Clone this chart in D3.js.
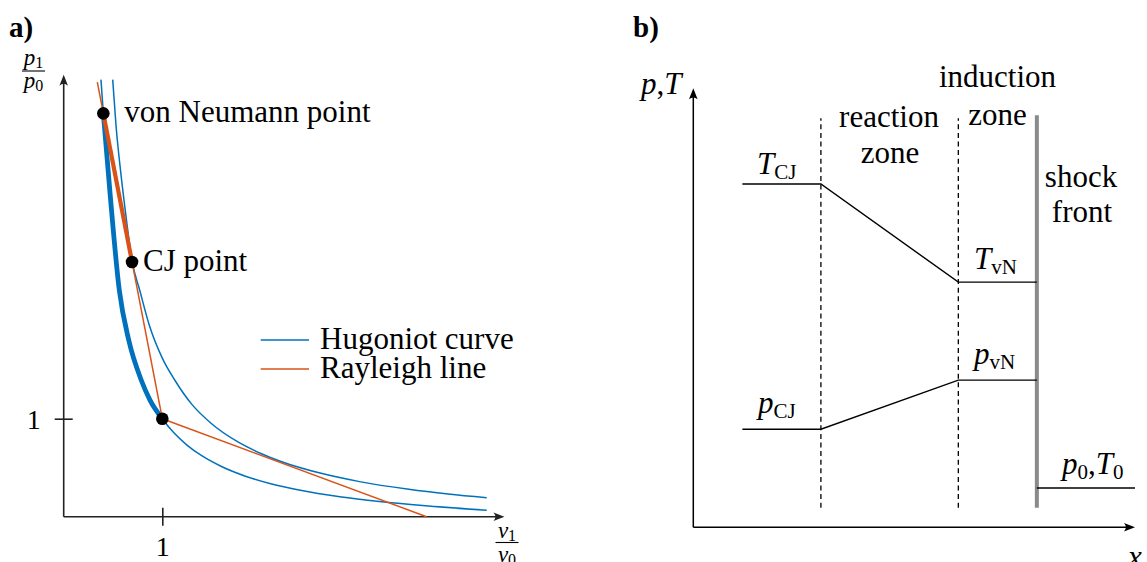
<!DOCTYPE html>
<html>
<head>
<meta charset="utf-8">
<script src="https://cdn.jsdelivr.net/npm/d3@7"></script>
<style>
  body { margin: 0; background: #fff; }
  svg { display: block; }
  text { font-family: "Liberation Serif", "Times New Roman", serif; fill: #000; }
</style>
</head>
<body>
<svg id="chart" width="1147" height="562"></svg>
<script>
// ---------- Panel a: Hugoniot curves and Rayleigh lines ----------
// Shock (unreacted) Hugoniot through the initial state (1, 1)
const shockV = [0.378, 0.402, 0.47, 0.564, 0.66, 0.784, 0.875, 1.0, 1.12, 1.25, 1.4, 1.6, 1.85, 2.1, 2.4, 2.8, 3.2, 3.7, 4.29];
const shockP = [4.46, 4.116, 3.30, 2.31, 1.80, 1.40, 1.19, 1.0, 0.853, 0.731, 0.622, 0.512, 0.411, 0.336, 0.269, 0.203, 0.154, 0.108, 0.066];
// Detonation (reacted) Hugoniot
const detV = [0.497, 0.53, 0.58, 0.63, 0.693, 0.774, 0.87, 1.0, 1.129, 1.3, 1.5, 1.75, 2.0, 2.3, 2.6, 3.0, 3.5, 3.9, 4.29];
const detP = [4.46, 4.0, 3.5, 3.08, 2.61, 2.30, 1.948, 1.618, 1.39, 1.146, 0.949, 0.773, 0.645, 0.530, 0.445, 0.358, 0.280, 0.232, 0.194];
// Rayleigh lines from the initial state
const rayleighV = [1, 0.341];
const rayleighP = [1, 4.435];
const weakRayleighV = [1, 3.68];
const weakRayleighP = [1, 0];
// Marked states
const pointNames = ["von Neumann point", "CJ point", ""];
const pointV = [0.402, 0.693, 1];
const pointP = [4.116, 2.599, 1];
const legendLabels = ["Hugoniot curve", "Rayleigh line"];
const xTicksA = [1];
const yTicksA = [1];

// ---------- Panel b: profile through the detonation ----------
const profileX = [1, 2.6, 5.4, 7];
const temperature = [7, 7, 5, 5];
const pressure = [2, 2, 3, 3];
const ambientX = [7, 9];
const ambientLevel = [0.8, 0.8];
const zoneBounds = [2.6, 5.4];
const shockX = 7;
const wallSpan = [0.4, 8.4];

const BLUE = "#0072BD", ORANGE = "#D95319";
const FS = 31;
const svg = d3.select("#chart");

// arrowhead in LaTeX style, tip at (x, y), pointing along angle
function arrowHead(g, x, y, angle, color) {
  const L = 11, W = 4.3;
  g.append("path")
    .attr("d", `M0,0 L${-L},${-W} Q${-L*0.65},0 ${-L},${W} Z`)
    .attr("transform", `translate(${x},${y}) rotate(${angle})`)
    .attr("fill", color);
}

// ===== Panel a =====
const gA = svg.append("g");
const xA = d3.scaleLinear().domain([0, 1]).range([63.7, 162.3]);
const yA = d3.scaleLinear().domain([0, 1]).range([516.7, 418.7]);
const axisColor = "#222";

// axes lines with arrows
gA.append("line").attr("x1", xA(0)).attr("y1", yA(0)).attr("x2", xA(4.47) - 4).attr("y2", yA(0))
  .attr("stroke", axisColor).attr("stroke-width", 1.6);
arrowHead(gA, xA(4.47), yA(0), 0, axisColor);
gA.append("line").attr("x1", xA(0)).attr("y1", yA(0)).attr("x2", xA(0)).attr("y2", yA(4.51) + 4)
  .attr("stroke", axisColor).attr("stroke-width", 1.6);
arrowHead(gA, xA(0), yA(4.51), -90, axisColor);

// tick marks via d3 axes
const axB = gA.append("g").attr("transform", `translate(0,${yA(0)})`)
  .call(d3.axisBottom(xA).tickValues(xTicksA).tickFormat(d => String(d)).tickSize(9));
axB.select(".domain").remove();
axB.selectAll(".tick line").attr("y1", -9).attr("y2", 9).attr("stroke", axisColor).attr("stroke-width", 1.6);
axB.selectAll(".tick text").attr("y", 39).attr("dy", 0)
  .style("font-family", "Liberation Serif").style("font-size", "28px").attr("fill", "#000");

const axL = gA.append("g").attr("transform", `translate(${xA(0)},0)`)
  .call(d3.axisLeft(yA).tickValues(yTicksA).tickFormat(d => String(d)).tickSize(9));
axL.select(".domain").remove();
axL.selectAll(".tick line").attr("x1", 9).attr("x2", -9).attr("stroke", axisColor).attr("stroke-width", 1.6);
axL.selectAll(".tick text").attr("x", -23).attr("dy", "0.34em")
  .style("font-family", "Liberation Serif").style("font-size", "28px").attr("fill", "#000");

// axis fraction labels
function fraction(g, cx, yNum, yBar, yDen, sym, subNum, subDen, halfW) {
  const t1 = g.append("text").attr("x", cx).attr("y", yNum).attr("text-anchor", "middle").style("font-size", "23px");
  t1.append("tspan").style("font-style", "italic").text(sym);
  t1.append("tspan").style("font-size", "16px").attr("dy", 3).text(subNum);
  g.append("line").attr("x1", cx - halfW).attr("x2", cx + halfW).attr("y1", yBar).attr("y2", yBar)
    .attr("stroke", "#000").attr("stroke-width", 1.1);
  const t2 = g.append("text").attr("x", cx).attr("y", yDen).attr("text-anchor", "middle").style("font-size", "23px");
  t2.append("tspan").style("font-style", "italic").text(sym);
  t2.append("tspan").style("font-size", "16px").attr("dy", 3).text(subDen);
}
fraction(gA, 33.5, 65, 71, 88, "p", "1", "0", 11.5);
fraction(gA, 507, 538, 542.5, 562, "v", "1", "0", 11.5);

const line = d3.line().x(d => xA(d[0])).y(d => yA(d[1])).curve(d3.curveMonotoneX);
const shock = shockV.map((v, i) => [v, shockP[i]]);
const det = detV.map((v, i) => [v, detP[i]]);

gA.append("path").attr("d", line(shock)).attr("fill", "none").attr("stroke", BLUE).attr("stroke-width", 1.5);
gA.append("path").attr("d", line(det)).attr("fill", "none").attr("stroke", BLUE).attr("stroke-width", 1.5);
// compressed branch between the von Neumann point and the initial state
const shockBranch = shock.filter(d => d[0] >= pointV[0] && d[0] <= pointV[2]);
gA.append("path").attr("d", line(shockBranch)).attr("fill", "none").attr("stroke", BLUE).attr("stroke-width", 4.8);

const straight = d3.line().x(d => xA(d[0])).y(d => yA(d[1]));
gA.append("path").attr("d", straight(rayleighV.map((v, i) => [v, rayleighP[i]])))
  .attr("fill", "none").attr("stroke", ORANGE).attr("stroke-width", 1.5);
gA.append("path").attr("d", straight(weakRayleighV.map((v, i) => [v, weakRayleighP[i]])))
  .attr("fill", "none").attr("stroke", ORANGE).attr("stroke-width", 1.5);
// reaction path from von Neumann to CJ along the Rayleigh line
gA.append("path").attr("d", straight([[pointV[0], pointP[0]], [pointV[1], pointP[1]]]))
  .attr("fill", "none").attr("stroke", ORANGE).attr("stroke-width", 4.2);

pointV.forEach((v, i) => {
  gA.append("circle").attr("cx", xA(v)).attr("cy", yA(pointP[i])).attr("r", 6.3).attr("fill", "#000");
  if (pointNames[i]) {
    gA.append("text").attr("x", xA(v) + (i === 0 ? 21 : 11)).attr("y", yA(pointP[i]) + 9)
      .style("font-size", FS + "px").text(pointNames[i]);
  }
});

// legend
const legColors = [BLUE, ORANGE];
legendLabels.forEach((lab, i) => {
  const y = 340 + i * 29;
  gA.append("line").attr("x1", 260.7).attr("x2", 309).attr("y1", y).attr("y2", y)
    .attr("stroke", legColors[i]).attr("stroke-width", 1.6);
  gA.append("text").attr("x", 320).attr("y", y + 9).style("font-size", FS + "px").text(lab);
});

gA.append("text").attr("x", 9).attr("y", 37).style("font-size", "29px").style("font-weight", "bold").text("a)");

// ===== Panel b =====
const gB = svg.append("g");
const xB = d3.scaleLinear().domain([0, 9]).range([693.3, 1135]);
const yB = d3.scaleLinear().domain([0, 7]).range([527.3, 184]);

gB.append("line").attr("x1", xB(0)).attr("y1", yB(0)).attr("x2", xB(9) - 4).attr("y2", yB(0))
  .attr("stroke", "#000").attr("stroke-width", 1.5);
arrowHead(gB, xB(9), yB(0), 0, "#000");
gB.append("line").attr("x1", xB(0)).attr("y1", yB(0)).attr("x2", xB(0)).attr("y2", yB(8.95) + 4)
  .attr("stroke", "#000").attr("stroke-width", 1.5);
arrowHead(gB, xB(0), yB(8.95), -90, "#000");

// zone boundaries
zoneBounds.forEach(x => {
  gB.append("line").attr("x1", xB(x)).attr("x2", xB(x)).attr("y1", yB(wallSpan[0])).attr("y2", yB(wallSpan[1]) + 3)
    .attr("stroke", "#000").attr("stroke-width", 1.3).attr("stroke-dasharray", "5,3.6");
});
// shock front
gB.append("line").attr("x1", xB(shockX)).attr("x2", xB(shockX)).attr("y1", yB(wallSpan[0])).attr("y2", yB(wallSpan[1]))
  .attr("stroke", "#8a8a8a").attr("stroke-width", 4);

const lineB = d3.line().x(d => xB(d[0])).y(d => yB(d[1]));
const profStyle = p => p.attr("fill", "none").attr("stroke", "#000").attr("stroke-width", 1.4);
profStyle(gB.append("path").attr("d", lineB(profileX.map((x, i) => [x, temperature[i]]))));
profStyle(gB.append("path").attr("d", lineB(profileX.map((x, i) => [x, pressure[i]]))));
profStyle(gB.append("path").attr("d", lineB(ambientX.map((x, i) => [x, ambientLevel[i]]))));

// symbol labels with subscripts
function symLabel(g, x, y, parts) {
  const t = g.append("text").attr("x", x).attr("y", y).style("font-size", FS + "px");
  parts.forEach(p => {
    const s = t.append("tspan").text(p.t);
    if (p.i) s.style("font-style", "italic");
    if (p.sub) s.style("font-size", "21px").attr("dy", 5);
    if (p.up) s.attr("dy", -5);
  });
}
symLabel(gB, 757, 174, [{ t: "T", i: true }, { t: "CJ", sub: true }]);
symLabel(gB, 974, 269, [{ t: "T", i: true }, { t: "vN", sub: true }]);
symLabel(gB, 974, 364, [{ t: "p", i: true }, { t: "vN", sub: true }]);
symLabel(gB, 758, 413, [{ t: "p", i: true }, { t: "CJ", sub: true }]);
symLabel(gB, 1062, 474, [{ t: "p", i: true }, { t: "0", sub: true }, { t: ",", up: true }, { t: "T", i: true }, { t: "0", sub: true }]);
symLabel(gB, 641, 94, [{ t: "p", i: true }, { t: "," }, { t: "T", i: true }]);
gB.append("text").attr("x", 1128).attr("y", 567).style("font-size", FS + "px").style("font-style", "italic").text("x");

const zoneText = [
  { t: "reaction", x: 889, y: 127 }, { t: "zone", x: 890, y: 163 },
  { t: "induction", x: 997.5, y: 87 }, { t: "zone", x: 997.5, y: 125 },
  { t: "shock", x: 1081, y: 187 }, { t: "front", x: 1082, y: 222 }
];
zoneText.forEach(d => gB.append("text").attr("x", d.x).attr("y", d.y).attr("text-anchor", "middle")
  .style("font-size", FS + "px").text(d.t));

gB.append("text").attr("x", 633).attr("y", 37).style("font-size", "29px").style("font-weight", "bold").text("b)");
</script>
</body>
</html>
